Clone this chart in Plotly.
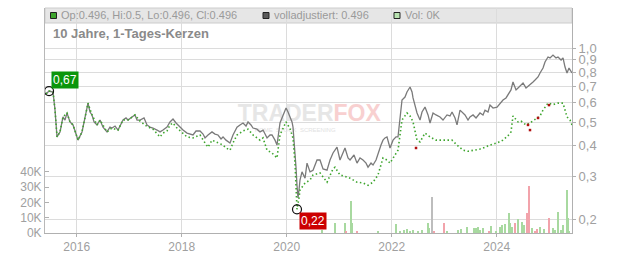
import math
import plotly.graph_objects as go

# ---------------- data ----------------
# time axis in decimal years
adj_x = [2015.415, 2015.473, 2015.549, 2015.587, 2015.625, 2015.644, 2015.682, 2015.739, 2015.777, 2015.815,
         2015.872, 2015.930, 2015.987, 2016.025, 2016.101, 2016.158, 2016.215, 2016.253, 2016.291, 2016.330,
         2016.387, 2016.444, 2016.501, 2016.577, 2016.634, 2016.672, 2016.730, 2016.787, 2016.844, 2016.882,
         2016.939, 2016.977, 2017.053, 2017.110, 2017.149, 2017.206, 2017.282, 2017.339, 2017.396, 2017.453,
         2017.530, 2017.587, 2017.644, 2017.720, 2017.777, 2017.834, 2017.892, 2017.968, 2018.025, 2018.101,
         2018.158, 2018.215, 2018.272, 2018.349, 2018.406, 2018.444, 2018.501, 2018.577, 2018.634, 2018.691,
         2018.749, 2018.787, 2018.844, 2018.920, 2018.977, 2019.053, 2019.110, 2019.168, 2019.225, 2019.263,
         2019.320, 2019.358, 2019.434, 2019.491, 2019.549, 2019.625, 2019.682, 2019.720, 2019.777, 2019.815,
         2019.872, 2019.930, 2019.987, 2020.025, 2020.063, 2020.101, 2020.120, 2020.158, 2020.177, 2020.196,
         2020.215, 2020.234, 2020.253, 2020.291, 2020.349, 2020.387, 2020.444, 2020.501, 2020.577, 2020.634,
         2020.692, 2020.768, 2020.825, 2020.882, 2020.920, 2020.958, 2021.015, 2021.072, 2021.110, 2021.168,
         2021.206, 2021.282, 2021.339, 2021.396, 2021.453, 2021.511, 2021.549, 2021.606, 2021.644, 2021.701,
         2021.739, 2021.796, 2021.834, 2021.872, 2021.910, 2021.968, 2022.025, 2022.082, 2022.120, 2022.158,
         2022.196, 2022.253, 2022.291, 2022.349, 2022.387, 2022.406, 2022.444, 2022.482, 2022.539, 2022.577,
         2022.634, 2022.692, 2022.730, 2022.787, 2022.844, 2022.920, 2022.977, 2023.053, 2023.110, 2023.149,
         2023.206, 2023.244, 2023.301, 2023.358, 2023.396, 2023.453, 2023.491, 2023.549, 2023.606, 2023.682,
         2023.739, 2023.777, 2023.834, 2023.872, 2023.930, 2024.006, 2024.063, 2024.120, 2024.177, 2024.215,
         2024.272, 2024.310, 2024.368, 2024.406, 2024.463, 2024.501, 2024.558, 2024.634, 2024.692, 2024.730,
         2024.787, 2024.825, 2024.882, 2024.920, 2024.977, 2025.015, 2025.072, 2025.130, 2025.168, 2025.225,
         2025.263, 2025.301, 2025.339, 2025.377, 2025.396, 2025.434]
adj_y = [0.652, 0.670, 0.664, 0.560, 0.435, 0.443, 0.456, 0.525, 0.510, 0.545,
         0.501, 0.487, 0.443, 0.422, 0.456, 0.520, 0.598, 0.550, 0.535, 0.501,
         0.487, 0.510, 0.477, 0.456, 0.477, 0.473, 0.482, 0.464, 0.487, 0.510,
         0.520, 0.510, 0.525, 0.535, 0.510, 0.510, 0.520, 0.487, 0.477, 0.473,
         0.464, 0.456, 0.464, 0.477, 0.501, 0.515, 0.496, 0.477, 0.464, 0.451,
         0.447, 0.443, 0.460, 0.460, 0.447, 0.431, 0.443, 0.456, 0.447, 0.443,
         0.427, 0.435, 0.422, 0.411, 0.443, 0.477, 0.487, 0.496, 0.482, 0.501,
         0.487, 0.473, 0.468, 0.456, 0.464, 0.431, 0.443, 0.443, 0.422, 0.403,
         0.496, 0.535, 0.571, 0.550, 0.525, 0.501, 0.477, 0.384, 0.327, 0.276,
         0.245, 0.264, 0.290, 0.313, 0.295, 0.340, 0.313, 0.318, 0.350, 0.350,
         0.322, 0.318, 0.350, 0.374, 0.384, 0.395, 0.350, 0.377, 0.392, 0.357,
         0.350, 0.367, 0.340, 0.357, 0.350, 0.340, 0.327, 0.340, 0.334, 0.350,
         0.374, 0.403, 0.422, 0.431, 0.435, 0.392, 0.422, 0.435, 0.435, 0.520,
         0.616, 0.633, 0.664, 0.696, 0.664, 0.628, 0.587, 0.545, 0.510, 0.550,
         0.576, 0.535, 0.496, 0.545, 0.535, 0.525, 0.510, 0.535, 0.530, 0.550,
         0.520, 0.487, 0.560, 0.545, 0.535, 0.510, 0.525, 0.535, 0.520, 0.545,
         0.535, 0.560, 0.550, 0.587, 0.571, 0.576, 0.598, 0.616, 0.628, 0.646,
         0.677, 0.730, 0.677, 0.690, 0.709, 0.723, 0.690, 0.709, 0.730, 0.743,
         0.765, 0.794, 0.832, 0.881, 0.923, 0.915, 0.940, 0.915, 0.923, 0.897,
         0.915, 0.840, 0.794, 0.832, 0.817, 0.794]

close_x = [2015.415, 2015.473, 2015.549, 2015.587, 2015.625, 2015.682, 2015.739, 2015.815, 2015.872, 2015.930,
           2016.025, 2016.101, 2016.215, 2016.291, 2016.387, 2016.444, 2016.577, 2016.672, 2016.787, 2016.882,
           2016.977, 2017.110, 2017.206, 2017.339, 2017.453, 2017.530, 2017.587, 2017.644, 2017.720, 2017.777,
           2017.834, 2017.892, 2017.968, 2018.101, 2018.215, 2018.349, 2018.444, 2018.501, 2018.577, 2018.691,
           2018.787, 2018.844, 2018.920, 2018.977, 2019.053, 2019.168, 2019.263, 2019.358, 2019.434, 2019.491,
           2019.549, 2019.625, 2019.720, 2019.815, 2019.872, 2019.987, 2020.063, 2020.120, 2020.158, 2020.196,
           2020.234, 2020.253, 2020.349, 2020.444, 2020.501, 2020.634, 2020.768, 2020.882, 2020.920, 2021.015,
           2021.110, 2021.206, 2021.339, 2021.453, 2021.549, 2021.644, 2021.739, 2021.834, 2021.910, 2021.968,
           2022.120, 2022.158, 2022.196, 2022.291, 2022.349, 2022.406, 2022.482, 2022.539, 2022.634, 2022.730,
           2022.844, 2022.920, 2023.053, 2023.149, 2023.244, 2023.358, 2023.453, 2023.549, 2023.682, 2023.777,
           2023.872, 2024.006, 2024.120, 2024.215, 2024.272, 2024.310, 2024.406, 2024.463, 2024.558, 2024.634,
           2024.730, 2024.825, 2024.882, 2024.977, 2025.072, 2025.168, 2025.263, 2025.339, 2025.396, 2025.434]
close_y = [0.652, 0.670, 0.664, 0.560, 0.435, 0.456, 0.525, 0.545, 0.501, 0.487,
           0.422, 0.456, 0.598, 0.535, 0.487, 0.510, 0.456, 0.473, 0.464, 0.510,
           0.510, 0.535, 0.505, 0.480, 0.468, 0.451, 0.435, 0.451, 0.460, 0.487,
           0.496, 0.477, 0.460, 0.435, 0.431, 0.443, 0.411, 0.395, 0.422, 0.411,
           0.403, 0.392, 0.384, 0.411, 0.443, 0.460, 0.468, 0.443, 0.431, 0.422,
           0.431, 0.384, 0.374, 0.357, 0.443, 0.501, 0.470, 0.430, 0.340, 0.220,
           0.245, 0.264, 0.282, 0.290, 0.304, 0.310, 0.284, 0.322, 0.327, 0.304,
           0.300, 0.295, 0.284, 0.282, 0.276, 0.284, 0.304, 0.357, 0.350, 0.340,
           0.384, 0.450, 0.510, 0.545, 0.530, 0.501, 0.422, 0.415, 0.451, 0.435,
           0.422, 0.422, 0.422, 0.422, 0.403, 0.384, 0.380, 0.384, 0.388, 0.395,
           0.403, 0.411, 0.422, 0.440, 0.456, 0.530, 0.501, 0.505, 0.487, 0.496,
           0.515, 0.530, 0.560, 0.598, 0.590, 0.598, 0.598, 0.525, 0.510, 0.487]

red_x = [2022.463, 2024.596, 2024.634, 2024.787, 2024.996]
red_y = [0.392, 0.487, 0.464, 0.520, 0.587]

vol_x = [2020.672, 2020.920, 2021.110, 2021.130, 2021.225, 2021.244, 2021.339, 2021.739, 2022.082, 2022.158,
         2022.234, 2022.291, 2022.349, 2022.406, 2022.501, 2022.577, 2022.692, 2022.711, 2022.768, 2022.806,
         2022.996, 2023.053, 2023.263, 2023.320, 2023.434, 2023.568, 2023.606, 2023.644, 2023.682, 2023.739,
         2023.853, 2023.891, 2023.987, 2024.063, 2024.101, 2024.158, 2024.234, 2024.253, 2024.291, 2024.349,
         2024.406, 2024.482, 2024.520, 2024.577, 2024.615, 2024.672, 2024.730, 2024.768, 2024.825, 2024.901,
         2024.996, 2025.072, 2025.110, 2025.168, 2025.225, 2025.263, 2025.339, 2025.358, 2025.377]
vol_v = [2000, 6500, 6500, 1300, 21000, 6500, 1300, 1300, 5900, 1300,
         2000, 2600, 1300, 2000, 1300, 2000, 6500, 3300, 23500, 1300,
         6500, 1300, 2000, 2600, 3900, 3300, 3300, 3900, 2000, 3300,
         1300, 4600, 1300, 3900, 5200, 5900, 13000, 6500, 3900, 6500,
         9200, 7200, 5200, 13000, 31000, 3300, 1300, 2600, 3900, 2600,
         9800, 3300, 2000, 13700, 2000, 5200, 28000, 9800, 1300]
vol_dir = ["u", "u", "u", "d", "u", "u", "d", "u", "u", "u",
           "u", "u", "u", "u", "u", "u", "u", "u", "n", "d",
           "d", "u", "u", "u", "u", "u", "u", "u", "u", "u",
           "d", "u", "u", "u", "u", "u", "u", "u", "u", "d",
           "u", "u", "u", "d", "d", "u", "d", "d", "u", "u",
           "d", "u", "u", "u", "u", "u", "u", "u", "u"]

price_ticks = [0.2, 0.3, 0.4, 0.5, 0.6, 0.7, 0.8, 0.9, 1.0]
price_labels = ["0,2", "0,3", "0,4", "0,5", "0,6", "0,7", "0,8", "0,9", "1,0"]
year_ticks = [2016, 2018, 2020, 2022, 2024]
year_labels = ["2016", "2018", "2020", "2022", "2024"]
vol_ticks = [0, 10000, 20000, 30000, 40000]
vol_labels = ["0K", "10K", "20K", "30K", "40K"]

first_x, first_y, first_label = 2015.473, 0.67, "0,67"
low_x, low_y, low_label = 2020.196, 0.22, "0,22"

header_ohlc = "Op:0.496, Hi:0.5, Lo:0.496, Cl:0.496"
header_adj = "volladjustiert: 0.496"
header_vol = "Vol: 0K"
title_text = "10 Jahre, 1-Tages-Kerzen"

# ---------------- figure ----------------
FONT = "Liberation Sans, Arial, sans-serif"
W, H = 632, 253
ML, MR, MT, MB = 45, 60, 8, 20
PW, PH = W - ML - MR, H - MT - MB

def px(xp):
    return (xp - ML) / PW

def py(yp):
    return (H - MB - yp) / PH

dir_colors = {"u": "#a8d9a0", "d": "#f2a3ab", "n": "#bdbdbd"}

fig = go.Figure()

# watermark (drawn first so it sits underneath)
fig.add_trace(go.Scatter(
    x=[2020.43], y=[77000], mode="text", yaxis="y",
    text=["TRADER<span style='color:#f8d0d0'>FOX</span>"],
    textfont=dict(family=FONT, size=23, color="#e6e6e6", weight="bold"),
    hoverinfo="skip", showlegend=False))
fig.add_trace(go.Scatter(
    x=[2020.16], y=[67300], mode="text", yaxis="y",
    text=["HOME  STOCK  SCREENING"],
    textfont=dict(family=FONT, size=6, color="#e2e2e2"),
    hoverinfo="skip", showlegend=False))

# volume
fig.add_trace(go.Bar(
    x=vol_x, y=vol_v, yaxis="y", width=0.02,
    marker=dict(color=[dir_colors[d] for d in vol_dir], line=dict(width=0)),
    hoverinfo="skip", showlegend=False))

# adjusted line
fig.add_trace(go.Scatter(
    x=adj_x, y=adj_y, yaxis="y2", mode="lines",
    line=dict(color="#7a7a7a", width=1.3),
    hoverinfo="skip", showlegend=False))

# unadjusted candles (drawn as dotted line)
fig.add_trace(go.Scatter(
    x=close_x, y=close_y, yaxis="y2", mode="lines",
    line=dict(color="#3ea52e", width=1.6, dash="1.5px,2.5px"),
    hoverinfo="skip", showlegend=False))

fig.add_trace(go.Scatter(
    x=red_x, y=red_y, yaxis="y2", mode="markers",
    marker=dict(symbol="square", size=2.5, color="#b01010"),
    hoverinfo="skip", showlegend=False))

# markers for first value and low
fig.add_trace(go.Scatter(
    x=[first_x, low_x], y=[first_y, low_y], yaxis="y2", mode="markers",
    marker=dict(symbol="circle-open", size=9, color="#111", line=dict(width=1.2)),
    hoverinfo="skip", showlegend=False))

shapes = [
    dict(type="rect", xref="paper", yref="paper", x0=0, x1=1, y0=py(23), y1=1,
         fillcolor="#e6e6e6", line=dict(color="#cccccc", width=1), layer="below"),
    dict(type="rect", xref="paper", yref="paper", x0=px(50.5), x1=px(56.5), y0=py(18.5), y1=py(12.5),
         fillcolor="#3ea52e", line=dict(color="#222", width=1)),
    dict(type="rect", xref="paper", yref="paper", x0=px(263), x1=px(269), y0=py(18.5), y1=py(12.5),
         fillcolor="#5a5a5a", line=dict(color="#222", width=1)),
    dict(type="rect", xref="paper", yref="paper", x0=px(394), x1=px(400), y0=py(18.5), y1=py(12.5),
         fillcolor="#b8e2b0", line=dict(color="#222", width=1)),
]

ann_font = dict(family=FONT, size=11, color="#9a9a9a")
annotations = [
    dict(xref="paper", yref="paper", x=px(59), y=py(15.5), text=header_ohlc, showarrow=False,
         xanchor="left", yanchor="middle", font=ann_font),
    dict(xref="paper", yref="paper", x=px(272), y=py(15.5), text=header_adj, showarrow=False,
         xanchor="left", yanchor="middle", font=ann_font),
    dict(xref="paper", yref="paper", x=px(403), y=py(15.5), text=header_vol, showarrow=False,
         xanchor="left", yanchor="middle", font=ann_font),
    dict(xref="paper", yref="paper", x=px(51), y=py(33), text="<b>" + title_text + "</b>", showarrow=False,
         xanchor="left", yanchor="middle", font=dict(family=FONT, size=13, color="#8a8a8a")),
    dict(xref="paper", yref="paper", x=px(64.5), y=py(80.5), text=first_label, showarrow=False,
         xanchor="center", yanchor="middle", bgcolor="#0b960b", borderpad=1,
         font=dict(family=FONT, size=12, color="white")),
    dict(xref="paper", yref="paper", x=px(313), y=py(221), text=low_label, showarrow=False,
         xanchor="center", yanchor="middle", bgcolor="#cc0000", borderpad=1,
         font=dict(family=FONT, size=12, color="white")),
]

tick_font = dict(family=FONT, size=12, color="#a0a0a0")

fig.update_layout(
    width=W, height=H,
    margin=dict(l=ML, r=MR, t=MT, b=MB, pad=0, autoexpand=False),
    paper_bgcolor="white", plot_bgcolor="white",
    showlegend=False, bargap=0,
    shapes=shapes, annotations=annotations,
    xaxis=dict(
        range=[2015.396, 2025.434], tickvals=year_ticks, ticktext=year_labels,
        showgrid=True, gridcolor="#dcdcdc", gridwidth=1, zeroline=False,
        showline=True, linecolor="#b0b0b0", linewidth=1,
        ticks="outside", ticklen=3, tickcolor="#b0b0b0",
        tickfont=tick_font, mirror=False, automargin=False),
    yaxis=dict(
        range=[0, 147059], tickvals=vol_ticks, ticktext=vol_labels,
        showgrid=False, zeroline=False,
        showline=True, linecolor="#b8b8b8", linewidth=1,
        ticks="inside", ticklen=4, tickcolor="#b0b0b0",
        tickfont=tick_font, side="left", automargin=False),
    yaxis2=dict(
        type="log", range=[-0.7543, 0.1656], overlaying="y", side="right",
        tickvals=price_ticks, ticktext=price_labels,
        showgrid=True, gridcolor="#dcdcdc", gridwidth=1, zeroline=False,
        showline=True, linecolor="#b0b0b0", linewidth=1,
        ticks="outside", ticklen=3, tickcolor="#b0b0b0",
        tickfont=dict(family=FONT, size=13, color="#a0a0a0"), automargin=False),
)

fig.write_html("out.html")
